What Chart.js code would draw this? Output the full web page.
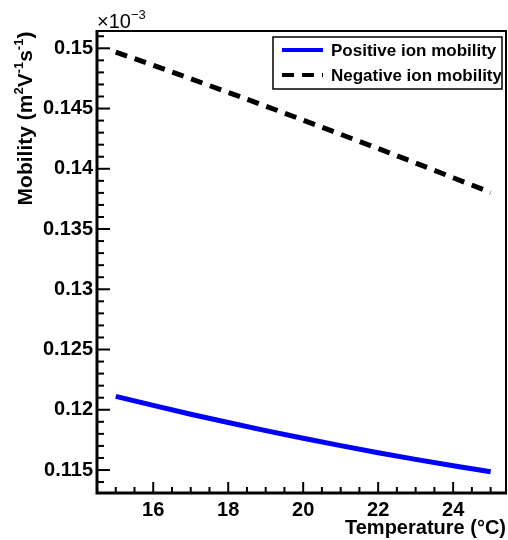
<!DOCTYPE html>
<html>
<head>
<meta charset="utf-8">
<script src="https://cdn.jsdelivr.net/npm/chart.js@4/dist/chart.umd.min.js"></script>
<style>
  html, body { margin: 0; padding: 0; background: #fff; }
  #wrap { width: 508px; height: 540px; }
</style>
</head>
<body>
<div id="wrap"><canvas id="mobChart" width="508" height="540"></canvas></div>
<script>
// values, mobility in units of 1e-3 m^2 V^-1 s^-1
const temperatures = [15, 16, 17, 18, 19, 20, 21, 22, 23, 24, 25];
const positiveMobility = [0.12111, 0.12036, 0.11963, 0.11894, 0.11827, 0.11763, 0.11702, 0.11643, 0.11588, 0.11535, 0.11485];
const negativeMobility = [0.14969, 0.14859, 0.14747, 0.14634, 0.14520, 0.14404, 0.14286, 0.14168, 0.14048, 0.13926, 0.13804];
const seriesLabels = ['Positive ion mobility', 'Negative ion mobility'];
const xTicks = [16, 18, 20, 22, 24];
const yTicks = [0.115, 0.12, 0.125, 0.13, 0.135, 0.14, 0.145, 0.15];

const FONT = '"Liberation Sans", Arial, Helvetica, sans-serif';

function points(ys) {
    return temperatures.map((t, i) => ({ x: t, y: ys[i] }));
}

// frame, inward ticks, exponent, y title and legend, ROOT style
const rootStyle = {
    id: 'rootStyle',
    afterDatasetsDraw(chart) {
        const ctx = chart.ctx;
        const area = chart.chartArea;
        const xs = chart.scales.x;
        const ys = chart.scales.y;
        ctx.save();
        ctx.strokeStyle = '#000';
        ctx.lineCap = 'butt';

        // minor + major ticks on x
        ctx.lineWidth = 2;
        for (let k = 29; k <= 50; k++) {
            const v = k / 2;
            const px = xs.getPixelForValue(v);
            if (px < area.left + 1 || px > area.right - 1) continue;
            const len = (k % 4 === 0) ? 11 : 6;
            ctx.beginPath();
            ctx.moveTo(px, area.bottom);
            ctx.lineTo(px, area.bottom - len);
            ctx.stroke();
        }
        // minor + major ticks on y
        for (let k = 114; k <= 151; k++) {
            const py = ys.getPixelForValue(k / 1000);
            if (py < area.top + 1 || py > area.bottom - 1) continue;
            const len = (k % 5 === 0) ? 13 : 7;
            ctx.beginPath();
            ctx.moveTo(area.left, py);
            ctx.lineTo(area.left + len, py);
            ctx.stroke();
        }

        // frame
        ctx.lineWidth = 2;
        ctx.beginPath();
        ctx.moveTo(area.left, area.top);
        ctx.lineTo(area.right, area.top);
        ctx.lineTo(area.right, area.bottom);
        ctx.stroke();
        ctx.lineWidth = 3;
        ctx.beginPath();
        ctx.moveTo(area.left, area.top - 1);
        ctx.lineTo(area.left, area.bottom);
        ctx.lineTo(area.right + 1, area.bottom);
        ctx.stroke();

        // exponent label
        ctx.fillStyle = '#000';
        ctx.textBaseline = 'alphabetic';
        ctx.textAlign = 'left';
        ctx.font = '20px ' + FONT;
        ctx.fillText('\u00d710', area.left, 28);
        ctx.font = '13px ' + FONT;
        ctx.fillText('\u22123', area.left + 34, 19);

        // y title with superscripts, rotated
        const parts = [
            ['Mobility (m', false], ['2', true], ['V', false], ['-1', true],
            ['s', false], ['-1', true], [')', false]
        ];
        const big = 'bold 21px ' + FONT;
        const small = 'bold 13px ' + FONT;
        let total = 0;
        parts.forEach(p => { ctx.font = p[1] ? small : big; total += ctx.measureText(p[0]).width; });
        ctx.translate(32, (30 + 207) / 2 + total / 2);
        ctx.rotate(-Math.PI / 2);
        let cx = 0;
        parts.forEach(p => {
            ctx.font = p[1] ? small : big;
            ctx.fillText(p[0], cx, p[1] ? -9 : 0);
            cx += ctx.measureText(p[0]).width;
        });
        ctx.setTransform(1, 0, 0, 1, 0, 0);

        // legend
        const box = { x: 273, y: 37, w: 229, h: 52 };
        ctx.fillStyle = '#fff';
        ctx.fillRect(box.x, box.y, box.w, box.h);
        ctx.lineWidth = 1.5;
        ctx.strokeStyle = '#000';
        ctx.strokeRect(box.x, box.y, box.w, box.h);
        ctx.save();
        ctx.beginPath();
        ctx.rect(box.x, box.y, box.w - 1, box.h);
        ctx.clip();
        chart.data.datasets.forEach((ds, i) => {
            const cy = box.y + 13 + i * 25;
            ctx.strokeStyle = ds.borderColor;
            ctx.lineWidth = 4;
            ctx.setLineDash(ds.borderDash || []);
            ctx.beginPath();
            ctx.moveTo(282, cy);
            ctx.lineTo(323, cy);
            ctx.stroke();
            ctx.setLineDash([]);
            ctx.fillStyle = '#000';
            ctx.font = 'bold 17px ' + FONT;
            ctx.textBaseline = 'alphabetic';
            ctx.fillText(ds.label, 331, cy + 6);
        });
        ctx.restore();
        ctx.restore();
    }
};

new Chart(document.getElementById('mobChart'), {
    type: 'line',
    data: {
        datasets: [
            {
                label: seriesLabels[0],
                data: points(positiveMobility),
                borderColor: '#0000ff',
                borderWidth: 5,
                pointRadius: 0,
                cubicInterpolationMode: 'monotone',
                fill: false
            },
            {
                label: seriesLabels[1],
                data: points(negativeMobility),
                borderColor: '#000000',
                borderWidth: 5,
                borderDash: [12, 8],
                borderCapStyle: 'butt',
                pointRadius: 0,
                cubicInterpolationMode: 'monotone',
                fill: false
            }
        ]
    },
    options: {
        responsive: false,
        animation: false,
        layout: { padding: { top: 31, right: 2, left: 0, bottom: 0 } },
        plugins: {
            legend: { display: false },
            tooltip: { enabled: false }
        },
        scales: {
            x: {
                type: 'linear',
                min: 14.5,
                max: 25.41,
                afterBuildTicks: s => { s.ticks = xTicks.map(v => ({ value: v })); },
                afterFit: s => { s.height = 47; },
                grid: { display: false, drawTicks: false },
                border: { display: false },
                ticks: {
                    autoSkip: false,
                    maxRotation: 0,
                    padding: 5,
                    color: '#000',
                    font: { family: FONT, size: 20, weight: 'bold' },
                    callback: v => String(v)
                },
                title: {
                    display: true,
                    text: 'Temperature (\u00b0C)',
                    align: 'end',
                    color: '#000',
                    padding: 0,
                    font: { family: FONT, size: 20, weight: 'bold' }
                }
            },
            y: {
                type: 'linear',
                min: 0.113091,
                max: 0.151436,
                afterBuildTicks: s => { s.ticks = yTicks.map(v => ({ value: v })); },
                afterFit: s => { s.width = 97; },
                grid: { display: false, drawTicks: false },
                border: { display: false },
                ticks: {
                    padding: 4,
                    color: '#000',
                    font: { family: FONT, size: 20, weight: 'bold' },
                    callback: v => String(+v.toFixed(3))
                }
            }
        }
    },
    plugins: [rootStyle]
});
</script>
</body>
</html>
